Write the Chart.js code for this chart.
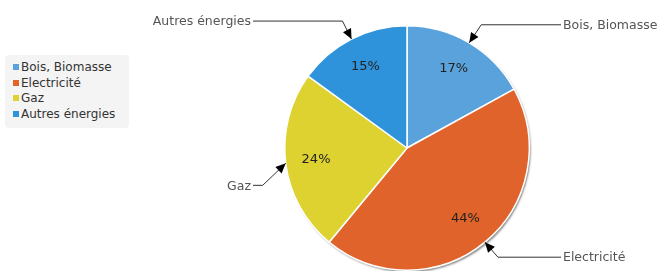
<!DOCTYPE html>
<html>
<head>
<meta charset="utf-8">
<script src="https://cdn.jsdelivr.net/npm/chart.js@4/dist/chart.umd.min.js"></script>
<style>
  html, body { margin: 0; padding: 0; background: #fff; }
  #wrap { position: relative; width: 661px; height: 271px; }
  #legend {
    position: absolute; left: 5px; top: 55px; width: 124px;
    background: #f4f4f4; border-radius: 4px; padding: 5px 0 6px 0;
    font: 12px "DejaVu Sans", sans-serif; color: #333;
  }
  #legend div { height: 15.5px; line-height: 15.5px; padding-left: 8px; white-space: nowrap; }
  #legend span { display: inline-block; width: 6px; height: 6px; margin-right: 2px; vertical-align: 1px; }
</style>
</head>
<body>
<div id="wrap">
  <canvas id="pie" width="661" height="271"></canvas>
  <div id="legend"></div>
</div>
<script>
const categories = ['Bois, Biomasse', 'Electricité', 'Gaz', 'Autres énergies'];
const shares = [17, 44, 24, 15];
const colors = ['#5aa2db', '#e0632b', '#ddd230', '#2f93dc'];

// legend
const legend = document.getElementById('legend');
categories.forEach((c, i) => {
  const row = document.createElement('div');
  row.innerHTML = '<span style="background:' + colors[i] + '"></span>' + c;
  legend.appendChild(row);
});

// leader lines with arrows, elbow offsets from the arrow tip, text on left or right side
const calloutPlugin = {
  id: 'callouts',
  afterDatasetsDraw(chart, args, opts) {
    const ctx = chart.ctx;
    const meta = chart.getDatasetMeta(0);
    meta.data.forEach((arc, i) => {
      const p = arc.getProps(['x', 'y', 'startAngle', 'endAngle', 'outerRadius'], true);
      const mid = (p.startAngle + p.endAngle) / 2;
      const r = p.outerRadius;

      // percentage inside the slice
      ctx.save();
      ctx.font = '13px "DejaVu Sans", sans-serif';
      ctx.fillStyle = '#222';
      ctx.textAlign = 'center';
      ctx.textBaseline = 'middle';
      ctx.fillText(shares[i] + '%', p.x + Math.cos(mid) * r * 0.75, p.y + Math.sin(mid) * r * 0.75);
      ctx.restore();

      const c = opts.items[i];
      const tx = p.x + Math.cos(mid) * r;
      const ty = p.y + Math.sin(mid) * r;
      const ex = tx + c.dx, ey = ty + c.dy;
      const right = c.side === 'right';
      const lx = right ? opts.rightX : opts.leftX;

      ctx.save();
      ctx.strokeStyle = '#333';
      ctx.lineWidth = 1;
      ctx.beginPath();
      ctx.moveTo(lx, ey);
      ctx.lineTo(ex, ey);
      ctx.lineTo(tx, ty);
      ctx.stroke();
      // arrow head
      const a = Math.atan2(ty - ey, tx - ex);
      const len = 10, w = 4.5;
      ctx.fillStyle = '#000';
      ctx.beginPath();
      ctx.moveTo(tx, ty);
      ctx.lineTo(tx - Math.cos(a) * len - Math.sin(a) * w, ty - Math.sin(a) * len + Math.cos(a) * w);
      ctx.lineTo(tx - Math.cos(a) * len + Math.sin(a) * w, ty - Math.sin(a) * len - Math.cos(a) * w);
      ctx.closePath();
      ctx.fill();

      ctx.font = '12.5px "DejaVu Sans", sans-serif';
      ctx.fillStyle = '#555';
      ctx.textBaseline = 'middle';
      ctx.textAlign = right ? 'left' : 'right';
      ctx.fillText(categories[i], right ? lx + 2 : lx - 2, ey + 1);
      ctx.restore();
    });
  }
};

// soft shadow behind the whole disc only
const shadowPlugin = {
  id: 'pieShadow',
  beforeDatasetsDraw(chart) {
    const arc = chart.getDatasetMeta(0).data[0];
    if (!arc) return;
    const p = arc.getProps(['x', 'y', 'outerRadius'], true);
    const ctx = chart.ctx;
    ctx.save();
    ctx.shadowColor = 'rgba(0,0,0,0.45)';
    ctx.shadowBlur = 2;
    ctx.shadowOffsetX = 1.5;
    ctx.shadowOffsetY = 2;
    ctx.fillStyle = '#ffffff';
    ctx.beginPath();
    ctx.arc(p.x, p.y, p.outerRadius, 0, Math.PI * 2);
    ctx.fill();
    ctx.restore();
  }
};

new Chart(document.getElementById('pie'), {
  type: 'pie',
  data: {
    labels: categories,
    datasets: [{
      data: shares,
      backgroundColor: colors,
      borderColor: '#ffffff',
      borderWidth: 1.5
    }]
  },
  options: {
    responsive: false,
    animation: false,
    layout: { padding: { left: 284, right: 131, top: 25, bottom: 0 } },
    plugins: {
      legend: { display: false },
      tooltip: { enabled: false },
      callouts: {
        rightX: 561,
        leftX: 253,
        items: [
          { side: 'right', dx: 12, dy: -18 },
          { side: 'right', dx: 13, dy: 15 },
          { side: 'left', dx: -23, dy: 22 },
          { side: 'left', dx: -9, dy: -18 }
        ]
      }
    }
  },
  plugins: [shadowPlugin, calloutPlugin]
});
</script>
</body>
</html>
